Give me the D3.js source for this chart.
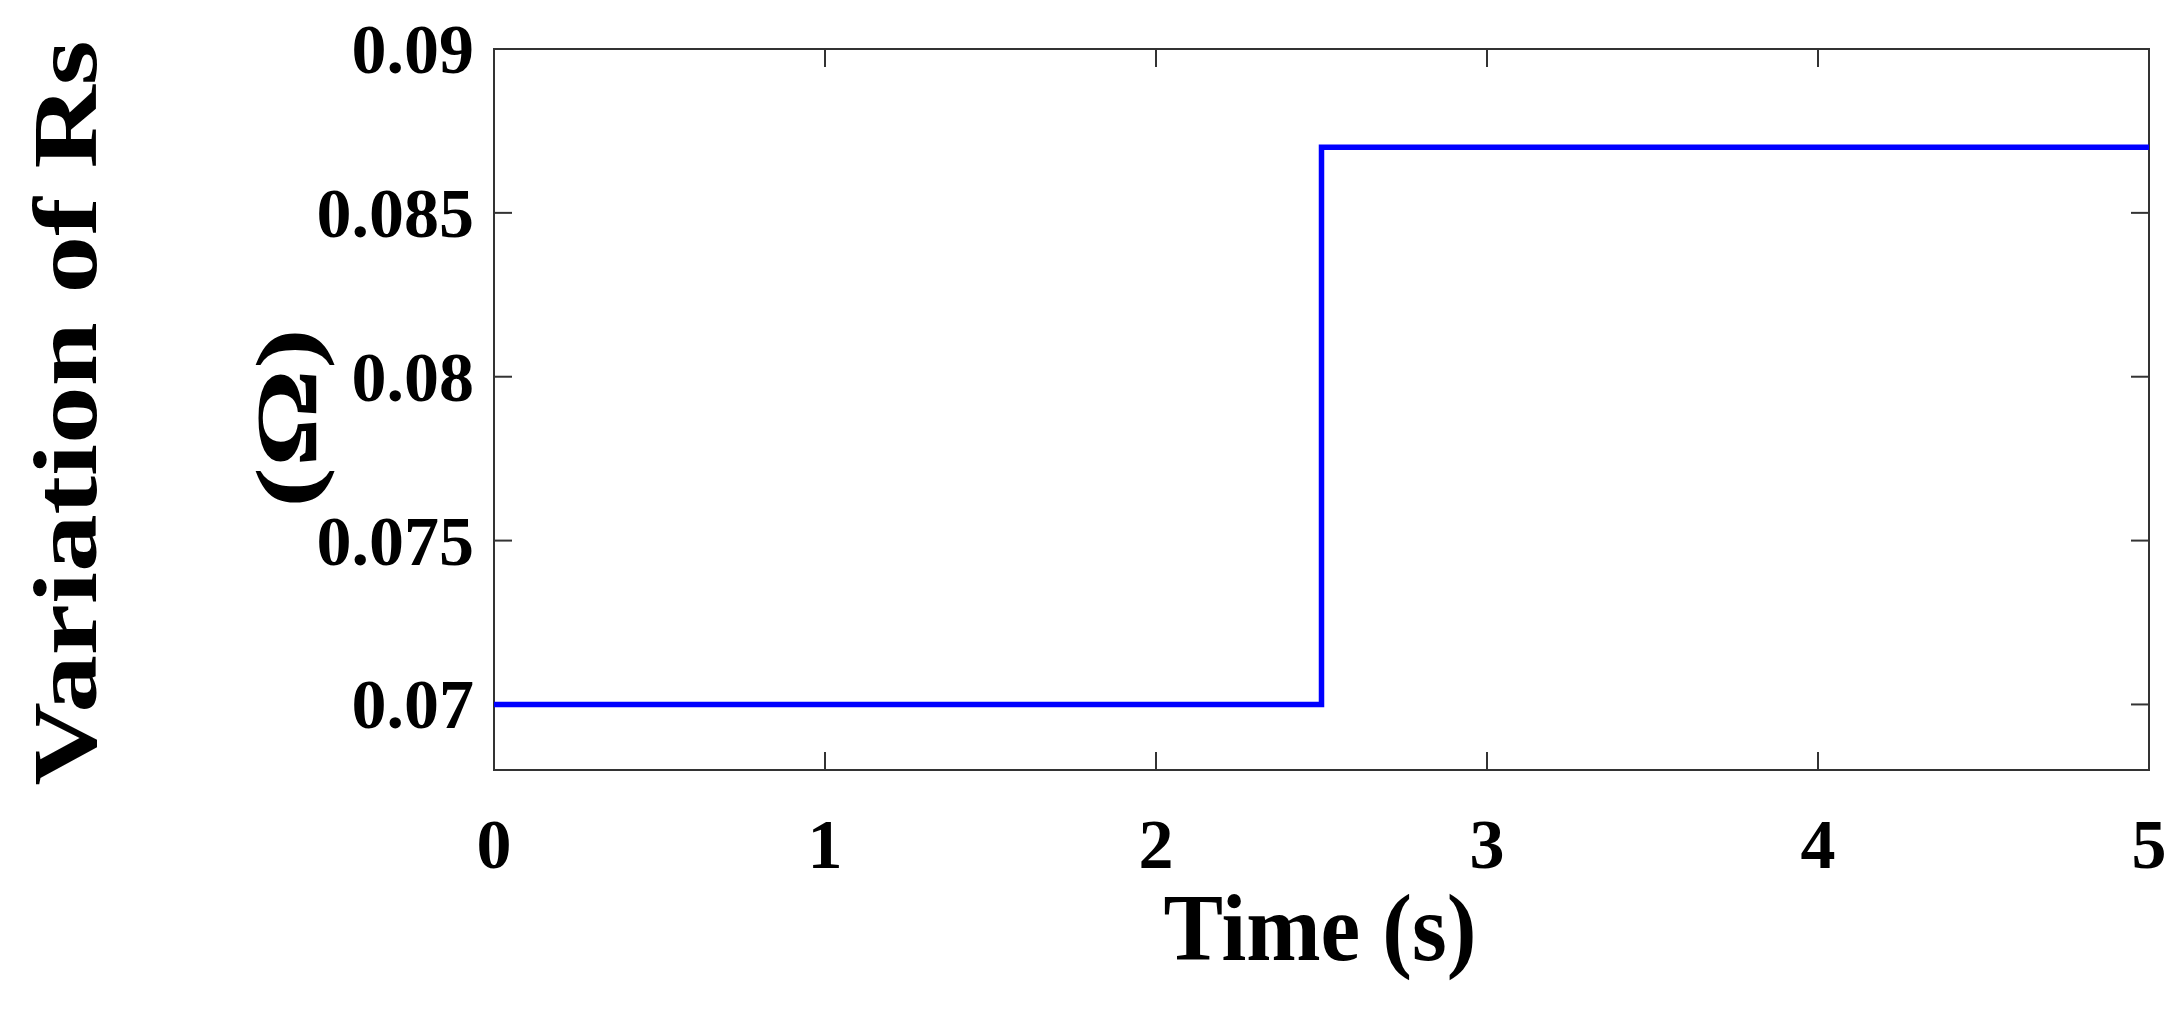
<!DOCTYPE html><html><head><meta charset="utf-8">
<script src="https://cdn.jsdelivr.net/npm/d3@7"></script>
<style>body{margin:0;background:#fff}</style></head><body>
<svg id="c" width="2184" height="1016"></svg>
<script>
const stepTimes=[0,2.5,2.5,5];
const stepValues=[0.07,0.07,0.087,0.087];
const xTicks=[0,1,2,3,4,5];
const yTicks=[0.07,0.075,0.08,0.085,0.09];
const W=2184,H=1016,L=494,R=2149,T=49,B=770;
const svg=d3.select("#c");
const x=d3.scaleLinear().domain([0,5]).range([L,R]);
const y=d3.scaleLinear().domain([0.068,0.09]).range([B,T]);
const font="Liberation Serif, Times New Roman, serif";
svg.append("rect").attr("x",L).attr("y",T).attr("width",R-L).attr("height",B-T).attr("fill","none").attr("stroke","#333").attr("stroke-width",2);
const tl=18;
xTicks.forEach(t=>{
  svg.append("line").attr("x1",x(t)).attr("x2",x(t)).attr("y1",B).attr("y2",B-tl).attr("stroke","#333").attr("stroke-width",2);
  svg.append("line").attr("x1",x(t)).attr("x2",x(t)).attr("y1",T).attr("y2",T+tl).attr("stroke","#333").attr("stroke-width",2);
  svg.append("text").attr("x",x(t)).attr("y",868).attr("text-anchor","middle").attr("font-family",font).attr("font-weight","bold").attr("font-size",70).text(t);
});
yTicks.forEach(t=>{
  svg.append("line").attr("x1",L).attr("x2",L+tl).attr("y1",y(t)).attr("y2",y(t)).attr("stroke","#333").attr("stroke-width",2);
  svg.append("line").attr("x1",R).attr("x2",R-tl).attr("y1",y(t)).attr("y2",y(t)).attr("stroke","#333").attr("stroke-width",2);
  svg.append("text").attr("x",474).attr("y",y(t)+24).attr("text-anchor","end").attr("font-family",font).attr("font-weight","bold").attr("font-size",70).text(String(t));
});
const line=d3.line().x((d,i)=>x(stepTimes[i])).y(d=>y(d));
svg.append("path").attr("d",line(stepValues)).attr("fill","none").attr("stroke","#0000ff").attr("stroke-width",5.5);
svg.append("text").attr("x",1320).attr("y",960).attr("text-anchor","middle").attr("font-family",font).attr("font-weight","bold").attr("font-size",96).attr("textLength",313).attr("lengthAdjust","spacingAndGlyphs").text("Time (s)");
svg.append("text").attr("transform","translate(96,413) rotate(-90)").attr("text-anchor","middle").attr("font-family",font).attr("font-weight","bold").attr("font-size",92).attr("textLength",745).attr("lengthAdjust","spacingAndGlyphs").text("Variation of Rs");
svg.append("text").attr("transform","translate(316,418) rotate(-90)").attr("text-anchor","middle").attr("font-family",font).attr("font-weight","bold").attr("font-size",86).attr("textLength",180).attr("lengthAdjust","spacingAndGlyphs").text("(Ω)");
</script></body></html>
